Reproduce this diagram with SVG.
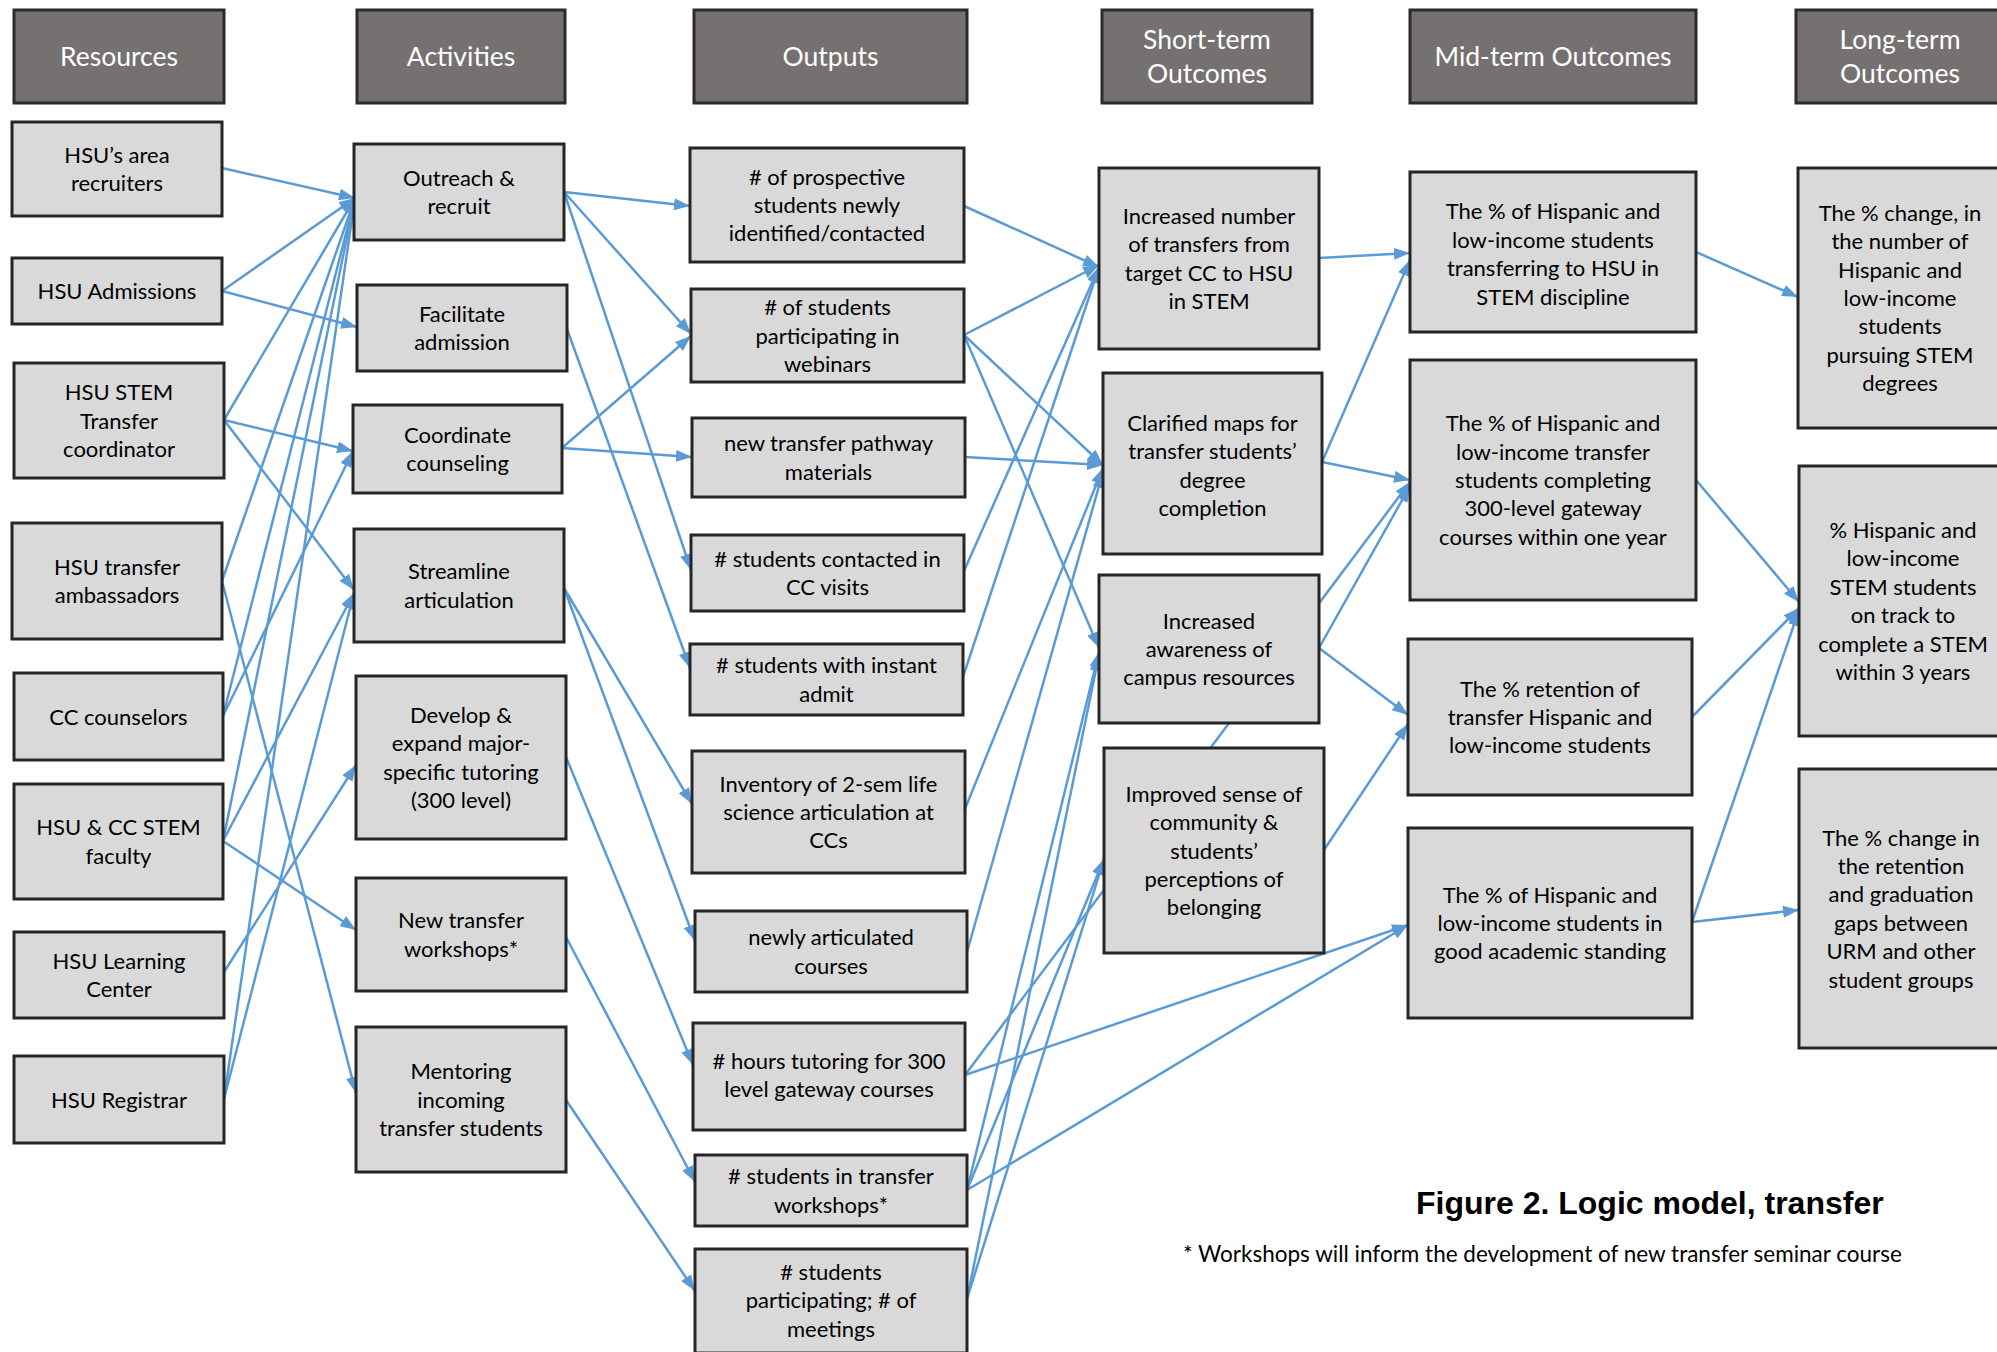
<svg xmlns="http://www.w3.org/2000/svg" width="1997" height="1352" viewBox="0 0 1997 1352">
<defs>
<marker id="ah" viewBox="0 0 16 12" refX="16" refY="6" markerWidth="16" markerHeight="12" orient="auto" markerUnits="userSpaceOnUse"><path d="M0,0 L16,6 L0,12 z" fill="#5B9BD5"/></marker>
<style>
.hd rect{fill:#767171;stroke:#2b2b2b;stroke-width:3}
.hd text{font-family:Lato,"Liberation Sans",sans-serif;font-size:26.5px;fill:#fff;text-anchor:middle}
.nd rect{fill:#D9D9D9;stroke:#262626;stroke-width:3}
.nd text{font-family:Lato,"Liberation Sans",sans-serif;font-size:22px;fill:#000;text-anchor:middle}
#connectors line{stroke:#5B9BD5;stroke-width:2.5;fill:none;marker-end:url(#ah)}
.title{font-family:"Liberation Sans",Arial,sans-serif;font-weight:bold;font-size:32px;fill:#000}
.foot{font-family:Lato,"Liberation Sans",sans-serif;font-size:22.5px;fill:#000}
</style>
</defs>
<rect width="1997" height="1352" fill="#fff"/>

<g id="connectors">
<line x1="222" y1="168" x2="355" y2="198"/>
<line x1="222" y1="291" x2="355" y2="198"/>
<line x1="222" y1="291" x2="357" y2="327"/>
<line x1="224" y1="420" x2="355" y2="198"/>
<line x1="224" y1="420" x2="353" y2="451"/>
<line x1="224" y1="420" x2="354" y2="590"/>
<line x1="222" y1="581" x2="355" y2="198"/>
<line x1="222" y1="581" x2="356" y2="1093"/>
<line x1="223" y1="716" x2="355" y2="198"/>
<line x1="223" y1="716" x2="353" y2="451"/>
<line x1="223" y1="841" x2="355" y2="198"/>
<line x1="223" y1="841" x2="354" y2="593"/>
<line x1="223" y1="841" x2="356" y2="930"/>
<line x1="224" y1="972" x2="356" y2="765"/>
<line x1="224" y1="1099" x2="355" y2="198"/>
<line x1="224" y1="1099" x2="354" y2="593"/>

<line x1="564" y1="192" x2="690" y2="206"/>
<line x1="564" y1="192" x2="691" y2="334"/>
<line x1="564" y1="192" x2="691" y2="570"/>
<line x1="567" y1="329" x2="690" y2="668"/>
<line x1="562" y1="448" x2="691" y2="336"/>
<line x1="562" y1="448" x2="692" y2="457"/>
<line x1="564" y1="588" x2="692" y2="804"/>
<line x1="564" y1="588" x2="695" y2="941"/>
<line x1="566" y1="757" x2="693" y2="1065"/>
<line x1="566" y1="937" x2="695" y2="1182"/>
<line x1="566" y1="1100" x2="695" y2="1291"/>

<line x1="964" y1="206" x2="1099" y2="267"/>
<line x1="964" y1="335" x2="1099" y2="265"/>
<line x1="964" y1="335" x2="1103" y2="465"/>
<line x1="964" y1="335" x2="1099" y2="648"/>
<line x1="965" y1="457" x2="1103" y2="465"/>
<line x1="964" y1="571" x2="1099" y2="267"/>
<line x1="963" y1="677" x2="1099" y2="267"/>
<line x1="965" y1="809" x2="1103" y2="468"/>
<line x1="967" y1="952" x2="1103" y2="472"/>
<line x1="965" y1="1075" x2="1410" y2="482"/>
<line x1="965" y1="1075" x2="1408" y2="925"/>
<line x1="967" y1="1190" x2="1099" y2="652"/>
<line x1="967" y1="1190" x2="1104" y2="859"/>
<line x1="967" y1="1190" x2="1408" y2="925"/>
<line x1="967" y1="1299" x2="1099" y2="655"/>
<line x1="967" y1="1299" x2="1104" y2="859"/>

<line x1="1319" y1="258" x2="1410" y2="253"/>
<line x1="1322" y1="462" x2="1410" y2="260"/>
<line x1="1322" y1="462" x2="1410" y2="480"/>
<line x1="1319" y1="648" x2="1410" y2="486"/>
<line x1="1319" y1="648" x2="1408" y2="715"/>
<line x1="1324" y1="850" x2="1408" y2="724"/>

<line x1="1696" y1="252" x2="1798" y2="297"/>
<line x1="1696" y1="480" x2="1799" y2="602"/>
<line x1="1692" y1="717" x2="1799" y2="608"/>
<line x1="1692" y1="922" x2="1799" y2="610"/>
<line x1="1692" y1="922" x2="1799" y2="910"/>
</g>

<g id="h-resources" class="hd"><rect x="14" y="10" width="210" height="93"/><text x="119" y="66">Resources</text></g>
<g id="h-activities" class="hd"><rect x="357" y="10" width="208" height="93"/><text x="461" y="66">Activities</text></g>
<g id="h-outputs" class="hd"><rect x="694" y="10" width="273" height="93"/><text x="830.5" y="66">Outputs</text></g>
<g id="h-short" class="hd"><rect x="1102" y="10" width="210" height="93"/><text x="1207" y="48.5">Short-term</text><text x="1207" y="82.5">Outcomes</text></g>
<g id="h-mid" class="hd"><rect x="1410" y="10" width="286" height="93"/><text x="1553" y="66">Mid-term Outcomes</text></g>
<g id="h-long" class="hd"><rect x="1796" y="10" width="207" height="93"/><text x="1900" y="48.5">Long-term</text><text x="1900" y="82.5">Outcomes</text></g>

<g id="r1" class="nd"><rect x="12" y="122" width="210" height="94"/><text x="117" y="162.8">HSU’s area</text><text x="117" y="191.2">recruiters</text></g>
<g id="r2" class="nd"><rect x="12" y="258" width="210" height="66"/><text x="117" y="299">HSU Admissions</text></g>
<g id="r3" class="nd"><rect x="14" y="363" width="210" height="115"/><text x="119" y="400.1">HSU STEM</text><text x="119" y="428.5">Transfer</text><text x="119" y="456.9">coordinator</text></g>
<g id="r4" class="nd"><rect x="12" y="523" width="210" height="116"/><text x="117" y="574.8">HSU transfer</text><text x="117" y="603.2">ambassadors</text></g>
<g id="r5" class="nd"><rect x="14" y="673" width="209" height="87"/><text x="118.5" y="724.5">CC counselors</text></g>
<g id="r6" class="nd"><rect x="14" y="784" width="209" height="115"/><text x="118.5" y="835.3">HSU &amp; CC STEM</text><text x="118.5" y="863.7">faculty</text></g>
<g id="r7" class="nd"><rect x="14" y="932" width="210" height="86"/><text x="119" y="968.8">HSU Learning</text><text x="119" y="997.2">Center</text></g>
<g id="r8" class="nd"><rect x="14" y="1056" width="210" height="87"/><text x="119" y="1107.5">HSU Registrar</text></g>

<g id="a1" class="nd"><rect x="354" y="144" width="210" height="96"/><text x="459" y="185.8">Outreach &amp;</text><text x="459" y="214.2">recruit</text></g>
<g id="a2" class="nd"><rect x="357" y="285" width="210" height="86"/><text x="462" y="321.8">Facilitate</text><text x="462" y="350.2">admission</text></g>
<g id="a3" class="nd"><rect x="353" y="405" width="209" height="88"/><text x="457.5" y="442.8">Coordinate</text><text x="457.5" y="471.2">counseling</text></g>
<g id="a4" class="nd"><rect x="354" y="529" width="210" height="113"/><text x="459" y="579.3">Streamline</text><text x="459" y="607.7">articulation</text></g>
<g id="a5" class="nd"><rect x="356" y="676" width="210" height="163"/><text x="461" y="722.9">Develop &amp;</text><text x="461" y="751.3">expand major-</text><text x="461" y="779.7">specific tutoring</text><text x="461" y="808.1">(300 level)</text></g>
<g id="a6" class="nd"><rect x="356" y="878" width="210" height="113"/><text x="461" y="928.3">New transfer</text><text x="461" y="956.7">workshops*</text></g>
<g id="a7" class="nd"><rect x="356" y="1027" width="210" height="145"/><text x="461" y="1079.1">Mentoring</text><text x="461" y="1107.5">incoming</text><text x="461" y="1135.9">transfer students</text></g>

<g id="o1" class="nd"><rect x="690" y="148" width="274" height="114"/><text x="827" y="184.6"># of prospective</text><text x="827" y="213">students newly</text><text x="827" y="241.4">identified/contacted</text></g>
<g id="o2" class="nd"><rect x="691" y="289" width="273" height="93"/><text x="827.5" y="315.1"># of students</text><text x="827.5" y="343.5">participating in</text><text x="827.5" y="371.9">webinars</text></g>
<g id="o3" class="nd"><rect x="692" y="418" width="273" height="79"/><text x="828.5" y="451.3">new transfer pathway</text><text x="828.5" y="479.7">materials</text></g>
<g id="o4" class="nd"><rect x="691" y="535" width="273" height="76"/><text x="827.5" y="566.8"># students contacted in</text><text x="827.5" y="595.2">CC visits</text></g>
<g id="o5" class="nd"><rect x="690" y="644" width="273" height="71"/><text x="826.5" y="673.3"># students with instant</text><text x="826.5" y="701.7">admit</text></g>
<g id="o6" class="nd"><rect x="692" y="751" width="273" height="122"/><text x="828.5" y="791.6">Inventory of 2-sem life</text><text x="828.5" y="820">science articulation at</text><text x="828.5" y="848.4">CCs</text></g>
<g id="o7" class="nd"><rect x="695" y="911" width="272" height="81"/><text x="831" y="945.3">newly articulated</text><text x="831" y="973.7">courses</text></g>
<g id="o8" class="nd"><rect x="693" y="1023" width="272" height="107"/><text x="829" y="1069">#  hours tutoring for 300</text><text x="829" y="1097.4">level gateway courses</text></g>
<g id="o9" class="nd"><rect x="695" y="1155" width="272" height="71"/><text x="831" y="1184.3"># students in transfer</text><text x="831" y="1212.7">workshops*</text></g>
<g id="o10" class="nd"><rect x="695" y="1249" width="272" height="104"/><text x="831" y="1280"># students</text><text x="831" y="1308.4">participating; # of</text><text x="831" y="1336.8">meetings</text></g>

<g id="s1" class="nd"><rect x="1099" y="168" width="220" height="181"/><text x="1209" y="224">Increased number</text><text x="1209" y="252.4">of transfers from</text><text x="1209" y="280.8">target CC to HSU</text><text x="1209" y="309.2">in STEM</text></g>
<g id="s2" class="nd"><rect x="1103" y="373" width="219" height="181"/><text x="1212.5" y="430.9">Clarified maps for</text><text x="1212.5" y="459.3">transfer students’</text><text x="1212.5" y="487.7">degree</text><text x="1212.5" y="516.1">completion</text></g>
<g id="s3" class="nd"><rect x="1099" y="575" width="220" height="148"/><text x="1209" y="628.6">Increased</text><text x="1209" y="657">awareness of</text><text x="1209" y="685.4">campus resources</text></g>
<g id="s4" class="nd"><rect x="1104" y="748" width="220" height="205"/><text x="1214" y="801.7">Improved sense of</text><text x="1214" y="830.1">community &amp;</text><text x="1214" y="858.5">students’</text><text x="1214" y="886.9">perceptions of</text><text x="1214" y="915.3">belonging</text></g>

<g id="m1" class="nd"><rect x="1410" y="172" width="286" height="160"/><text x="1553" y="219.4">The % of Hispanic and</text><text x="1553" y="247.8">low-income students</text><text x="1553" y="276.2">transferring to HSU in</text><text x="1553" y="304.6">STEM discipline</text></g>
<g id="m2" class="nd"><rect x="1410" y="360" width="286" height="240"/><text x="1553" y="431.2">The % of Hispanic and</text><text x="1553" y="459.6">low-income transfer</text><text x="1553" y="488">students completing</text><text x="1553" y="516.4">300-level gateway</text><text x="1553" y="544.8">courses within one year</text></g>
<g id="m3" class="nd"><rect x="1408" y="639" width="284" height="156"/><text x="1550" y="696.6">The % retention of</text><text x="1550" y="725">transfer Hispanic and</text><text x="1550" y="753.4">low-income students</text></g>
<g id="m4" class="nd"><rect x="1408" y="828" width="284" height="190"/><text x="1550" y="902.6">The % of Hispanic and</text><text x="1550" y="931">low-income students in</text><text x="1550" y="959.4">good academic standing</text></g>

<g id="l1" class="nd"><rect x="1798" y="168" width="205" height="260"/><text x="1900" y="220.8">The % change, in</text><text x="1900" y="249.2">the number of</text><text x="1900" y="277.6">Hispanic and</text><text x="1900" y="306">low-income</text><text x="1900" y="334.4">students</text><text x="1900" y="362.8">pursuing STEM</text><text x="1900" y="391.2">degrees</text></g>
<g id="l2" class="nd"><rect x="1799" y="466" width="205" height="270"/><text x="1903" y="538">% Hispanic and</text><text x="1903" y="566.4">low-income</text><text x="1903" y="594.8">STEM students</text><text x="1903" y="623.2">on track to</text><text x="1903" y="651.6">complete a STEM</text><text x="1903" y="680">within 3 years</text></g>
<g id="l3" class="nd"><rect x="1799" y="769" width="205" height="279"/><text x="1901" y="845.5">The % change in</text><text x="1901" y="873.9">the retention</text><text x="1901" y="902.3">and graduation</text><text x="1901" y="930.7">gaps between</text><text x="1901" y="959.1">URM and other</text><text x="1901" y="987.5">student groups</text></g>

<g id="caption">
<text class="title" x="1416" y="1214">Figure 2. Logic model, transfer</text>
<text class="foot" x="1183" y="1262">* Workshops will inform the development of new transfer seminar course</text>
</g>
</svg>
